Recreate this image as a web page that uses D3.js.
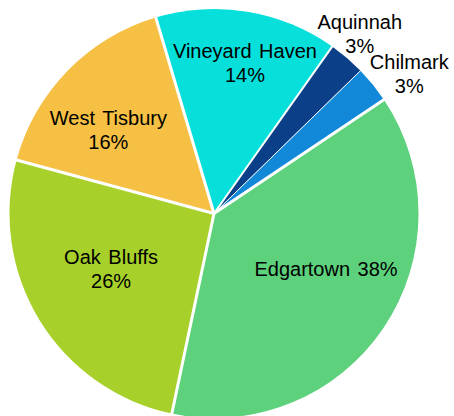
<!DOCTYPE html>
<html>
<head>
<meta charset="utf-8">
<script src="https://cdn.jsdelivr.net/npm/d3@7"></script>
<style>
  html, body { margin: 0; padding: 0; background: #fff; }
  svg { display: block; }
  text { font-family: "Liberation Sans", Arial, sans-serif; font-size: 20px; fill: #000; word-spacing: 2px; }
</style>
</head>
<body>
<div id="chart"></div>
<script>
// data (share of total, %)
const towns = ["Aquinnah", "Chilmark", "Edgartown", "Oak Bluffs", "West Tisbury", "Vineyard Haven"];
const shares = [2.9, 2.9, 37.7, 25.9, 16.2, 14.4];
const colors = ["#0b3f87", "#1188d8", "#5dd17c", "#a7d12a", "#f5c044", "#06dfda"];

// label layout: radius from centre and angle nudge (deg) from slice middle
const labelLayout = {
    "Aquinnah": { r: 231, nudge: -1.4, lines: 2 },
    "Chilmark": { r: 240, nudge: 3.5, lines: 2 },
    "Edgartown": { r: 125, nudge: -7.7, lines: 1 },
    "Oak Bluffs": { r: 117, nudge: 3.1, lines: 2 },
    "West Tisbury": { r: 135, nudge: -5.8, lines: 2 },
    "Vineyard Haven": { r: 154, nudge: 2.2, lines: 2 }
};
// white gap drawn at the start of each slice
const gapWidth = { "Aquinnah": 2, "Chilmark": 1, "Edgartown": 3, "Oak Bluffs": 3, "West Tisbury": 3, "Vineyard Haven": 3 };

const width = 454;
const height = 416;
const cx = 214, cy = 213.5;
const radius = 204.5;
const rad = Math.PI / 180;
const startDeg = 35.3;

const data = towns.map((t, i) => ({ town: t, value: shares[i], color: colors[i] }));
const total = d3.sum(shares);

const svg = d3.select("#chart")
    .append("svg")
    .attr("width", width)
    .attr("height", height);

const g = svg.append("g").attr("transform", `translate(${cx},${cy})`);

const pie = d3.pie()
    .sort(null)
    .value(d => d.value)
    .startAngle(startDeg * rad)
    .endAngle(startDeg * rad + 2 * Math.PI);

const arcs = pie(data);
const arc = d3.arc().innerRadius(0).outerRadius(radius);

// slices
g.selectAll("path.slice")
    .data(arcs)
    .enter()
    .append("path")
    .attr("class", "slice")
    .attr("fill", d => d.data.color)
    .attr("d", arc);

// white separators between slices
g.selectAll("line.sep")
    .data(arcs)
    .enter()
    .append("line")
    .attr("class", "sep")
    .attr("x1", 0)
    .attr("y1", 0)
    .attr("x2", d => Math.sin(d.startAngle) * (radius + 3))
    .attr("y2", d => -Math.cos(d.startAngle) * (radius + 3))
    .attr("stroke", "#fff")
    .attr("stroke-width", d => gapWidth[d.data.town]);

// labels
const lineH = 24;
const labels = g.selectAll("text.label")
    .data(arcs)
    .enter()
    .append("text")
    .attr("class", "label")
    .attr("text-anchor", "middle")
    .attr("transform", d => {
        const lay = labelLayout[d.data.town];
        const a = (d.startAngle + d.endAngle) / 2 + lay.nudge * rad;
        return `translate(${Math.sin(a) * lay.r},${-Math.cos(a) * lay.r})`;
    });

labels.each(function(d) {
    const lay = labelLayout[d.data.town];
    const pct = Math.round(d.data.value / total * 100) + "%";
    const lines = lay.lines === 2 ? [d.data.town, pct] : [d.data.town + " " + pct];
    const t = d3.select(this);
    lines.forEach((s, i) => {
        t.append("tspan")
            .attr("x", 0)
            .attr("y", (i - (lines.length - 1) / 2) * lineH + 7.2)
            .text(s);
    });
});
</script>
</body>
</html>
